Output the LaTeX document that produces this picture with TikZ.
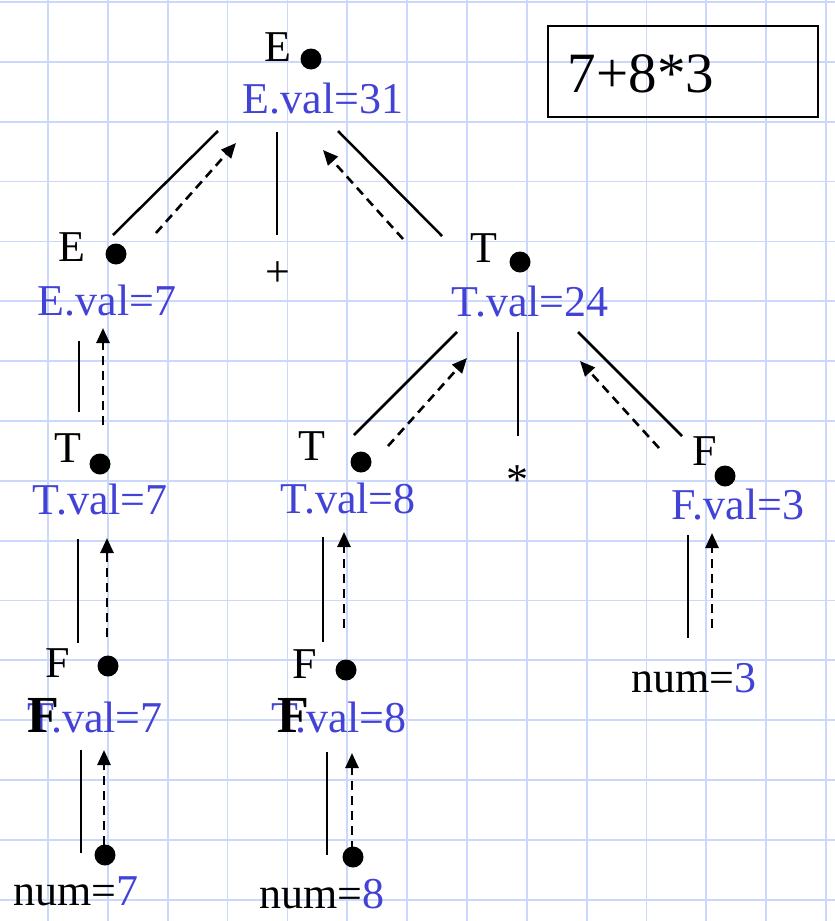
\documentclass[tikz,border=0pt]{standalone}
\usepackage{fontspec}
\setmainfont{Liberation Serif}
\usetikzlibrary{arrows.meta}
\definecolor{gridblue}{RGB}{203,216,252}
\definecolor{valblue}{RGB}{66,66,214}
\begin{document}
\begin{tikzpicture}[x=1pt,y=-1pt,
  lab/.style={font=\fontsize{44}{48}\selectfont, inner sep=0pt, anchor=base},
  val/.style={lab, text=valblue},
  dot/.style={circle, fill=black, inner sep=0pt, minimum size=21pt},
  tree/.style={line width=2.5pt},
  up/.style={line width=2.6pt, dash pattern=on 9pt off 6pt, -{Triangle[length=15pt,width=13pt]}},
  overlayF/.style={inner sep=0pt, anchor=base west, font=\fontsize{52}{54}\selectfont\bfseries}]
\fill[white] (0,0) rectangle (835,921);
\useasboundingbox (0,0) rectangle (835,921);
% grid
\foreach \i in {0,...,13} \draw[gridblue, line width=1.8pt] ({48+59.85*\i},0) -- ({48+59.85*\i},921);
\foreach \j in {0,...,15} \draw[gridblue, line width=1.8pt] (0,{2+59.85*\j}) -- (835,{2+59.85*\j});

% expression box
\node[draw, line width=1.6pt, minimum width=270pt, minimum height=91pt, inner sep=0pt] (box) at (683,71.5) {};
\node[inner sep=0pt, anchor=base, font=\fontsize{57}{60}\selectfont] (expr) at (641,92) {7+8*3};

% root E
\node[dot] (dE) at (311,59) {};
\node[lab] (lE) at (278,61) {E};
\node[val] (vE) at (323,113) {E.val=31};
% E left
\node[dot] (dE2) at (116,254) {};
\node[lab] (lE2) at (72,261) {E};
\node[val] (vE2) at (107,315) {E.val=7};
% plus
\node[lab] (plus) at (278,286) {+};
% T right
\node[dot] (dT) at (520,262) {};
\node[lab] (lT) at (484,262) {T};
\node[val] (vT) at (530,316) {T.val=24};
% T left
\node[dot] (dT2) at (100,464) {};
\node[lab] (lT2) at (68,462) {T};
\node[val] (vT2) at (100,514) {T.val=7};
% T mid
\node[dot] (dT3) at (361,462) {};
\node[lab] (lT3) at (312,460) {T};
\node[val] (vT3) at (348,513) {T.val=8};
% star
\node[lab] (star) at (517,494) {*};
% F right
\node[dot] (dF) at (725,476) {};
\node[lab] (lF) at (705,465) {F};
\node[val] (vF) at (738,519) {F.val=3};
% F left
\node[dot] (dF2) at (108,666) {};
\node[lab] (lF2) at (58,677) {F};
\node[val] (vF2) at (95,732) {T.val=7};
\node[overlayF] (oF2) at (27,732) {F};
% F mid
\node[dot] (dF3) at (346,670) {};
\node[lab] (lF3) at (305,678) {F};
\node[val] (vF3) at (339,732) {T.val=8};
\node[overlayF] (oF3) at (277,732) {F};
% nums
\node[dot] (dN7) at (105,855) {};
\node[lab] (n7) at (76,905) {num=\textcolor{valblue}{7}};
\node[dot] (dN8) at (353,857) {};
\node[lab] (n8) at (322,908) {num=\textcolor{valblue}{8}};
\node[lab] (n3) at (694,692) {num=\textcolor{valblue}{3}};

% connector end points
\coordinate (a1) at (218,131); \coordinate (a2) at (113,235);
\coordinate (a3) at (156,233); \coordinate (a4) at (236,143);
\coordinate (b1) at (277,132); \coordinate (b2) at (277,235);
\coordinate (c1) at (338,131); \coordinate (c2) at (442,236);
\coordinate (c3) at (403,239); \coordinate (c4) at (323,150);
\coordinate (d1) at (79,341);  \coordinate (d2) at (79,412);
\coordinate (d3) at (103,425); \coordinate (d4) at (103,328);
\coordinate (e1) at (78,539);  \coordinate (e2) at (78,643);
\coordinate (e3) at (107,637); \coordinate (e4) at (107,538);
\coordinate (f1) at (81,750);  \coordinate (f2) at (81,853);
\coordinate (f3) at (104,845); \coordinate (f4) at (104,750);
\coordinate (g1) at (457,332); \coordinate (g2) at (354,435);
\coordinate (g3) at (388,446); \coordinate (g4) at (467,358);
\coordinate (h1) at (518,332); \coordinate (h2) at (518,436);
\coordinate (i1) at (578,332); \coordinate (i2) at (682,436);
\coordinate (i3) at (659,448); \coordinate (i4) at (580,361);
\coordinate (j1) at (323,537); \coordinate (j2) at (323,642);
\coordinate (j3) at (344,628); \coordinate (j4) at (344,532);
\coordinate (k1) at (327,752); \coordinate (k2) at (327,855);
\coordinate (k3) at (352,850); \coordinate (k4) at (352,753);
\coordinate (m1) at (688,535); \coordinate (m2) at (688,638);
\coordinate (m3) at (712,628); \coordinate (m4) at (712,533);

\foreach \s/\t in {a1/a2,b1/b2,c1/c2,d1/d2,e1/e2,f1/f2,g1/g2,h1/h2,i1/i2,j1/j2,k1/k2,m1/m2}
  \draw[tree] (\s) -- (\t);
\foreach \s/\t in {a3/a4,c3/c4,d3/d4,e3/e4,f3/f4,g3/g4,i3/i4,j3/j4,k3/k4,m3/m4}
  \draw[up] (\s) -- (\t);
\end{tikzpicture}
\end{document}
